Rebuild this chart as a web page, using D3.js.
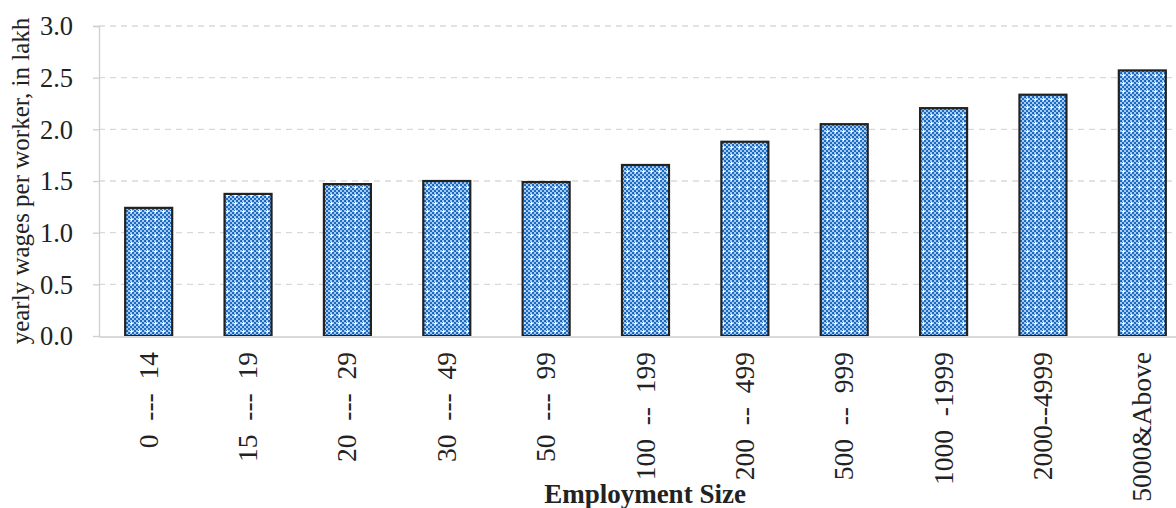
<!DOCTYPE html>
<html><head><meta charset="utf-8">
<script src="https://cdn.jsdelivr.net/npm/d3@7"></script>
<style>body{margin:0;background:#fff}svg{display:block}</style>
</head><body>
<svg id="c" width="1176" height="508"></svg>
<script>
const categories = ["0  ---  14","15  ---  19","20  ---  29","30  ---  49","50  ---  99","100  --  199","200  --  499","500  --  999","1000  -1999","2000--4999","5000&Above"];
const values = [1.24, 1.375, 1.47, 1.50, 1.49, 1.655, 1.88, 2.05, 2.205, 2.335, 2.57];
const yTicks = [0, 0.5, 1.0, 1.5, 2.0, 2.5, 3.0];
const FONT = "'Liberation Serif', 'Times New Roman', Tinos, 'DejaVu Serif', serif";

const svg = d3.select("#c").attr("font-family", FONT);
const defs = svg.append("defs");
const pat = defs.append("pattern").attr("id","pat").attr("patternUnits","userSpaceOnUse")
  .attr("width",8).attr("height",8);
pat.append("rect").attr("width",8).attr("height",8).attr("fill","#a9c9ec");
for (let i=0;i<4;i++) for (let j=0;j<4;j++) {
  if ((i+j)%2===0) pat.append("rect").attr("x",i*2).attr("y",j*2).attr("width",2).attr("height",2).attr("fill","#1a6cc4");
}
pat.append("rect").attr("x",3).attr("y",2).attr("width",1).attr("height",3).attr("fill","#fff");
pat.append("rect").attr("x",2).attr("y",3).attr("width",3).attr("height",1).attr("fill","#fff");

const x = d3.scaleBand().domain(categories).range([99, 1192]).paddingInner(0.527).paddingOuter(0.2635);
const y = d3.scaleLinear().domain([0, 3]).range([336, 26]);

svg.append("g").selectAll("line").data(yTicks.filter(d=>d>0)).join("line")
  .attr("x1",99).attr("x2",1176).attr("y1",d=>y(d)).attr("y2",d=>y(d))
  .attr("stroke","#d9d9d9").attr("stroke-width",1.3).attr("stroke-dasharray","6,5");

const ya = svg.append("g").attr("transform","translate(99,0)")
  .call(d3.axisLeft(y).tickValues(yTicks).tickFormat(d3.format(".1f")).tickSize(6).tickPadding(20));
ya.attr("font-family", FONT).attr("font-size", 26.5);
ya.select(".domain").attr("stroke","#cfcfcf").attr("stroke-width",1.3).attr("d","M-6,26.5H0.5V336.5");
ya.selectAll(".tick line").attr("stroke","#cfcfcf").attr("stroke-width",1.3);
ya.selectAll("text").attr("fill","#222").attr("dy","0.33em");

svg.append("g").selectAll("rect").data(values).join("rect")
  .attr("x",(d,i)=>x(categories[i])).attr("width",x.bandwidth())
  .attr("y",d=>y(d)).attr("height",d=>y(0)-y(d))
  .attr("fill","url(#pat)").attr("stroke","#222").attr("stroke-width",2.2);

svg.append("line").attr("x1",99).attr("x2",1176).attr("y1",337).attr("y2",337)
  .attr("stroke","#d9d9d9").attr("stroke-width",2);

const xa = svg.append("g").attr("transform","translate(0,337)")
  .call(d3.axisBottom(x).tickSize(0).tickPadding(0));
xa.attr("font-family", FONT).attr("font-size", 27.5);
xa.select(".domain").remove();
xa.selectAll("text").attr("fill","#222")
  .attr("text-anchor","end").attr("transform","rotate(-90)").attr("x",-15).attr("y",0).attr("dy","0.33em")
  .style("white-space","pre");

svg.append("text").attr("transform","translate(29,181) rotate(-90)").attr("text-anchor","middle")
  .attr("font-size",25).attr("fill","#222").text("yearly wages per worker, in lakh");
svg.append("text").attr("x",645).attr("y",503).attr("text-anchor","middle")
  .attr("font-size",27).attr("font-weight","bold").attr("fill","#222").text("Employment Size");
</script>
</body></html>
